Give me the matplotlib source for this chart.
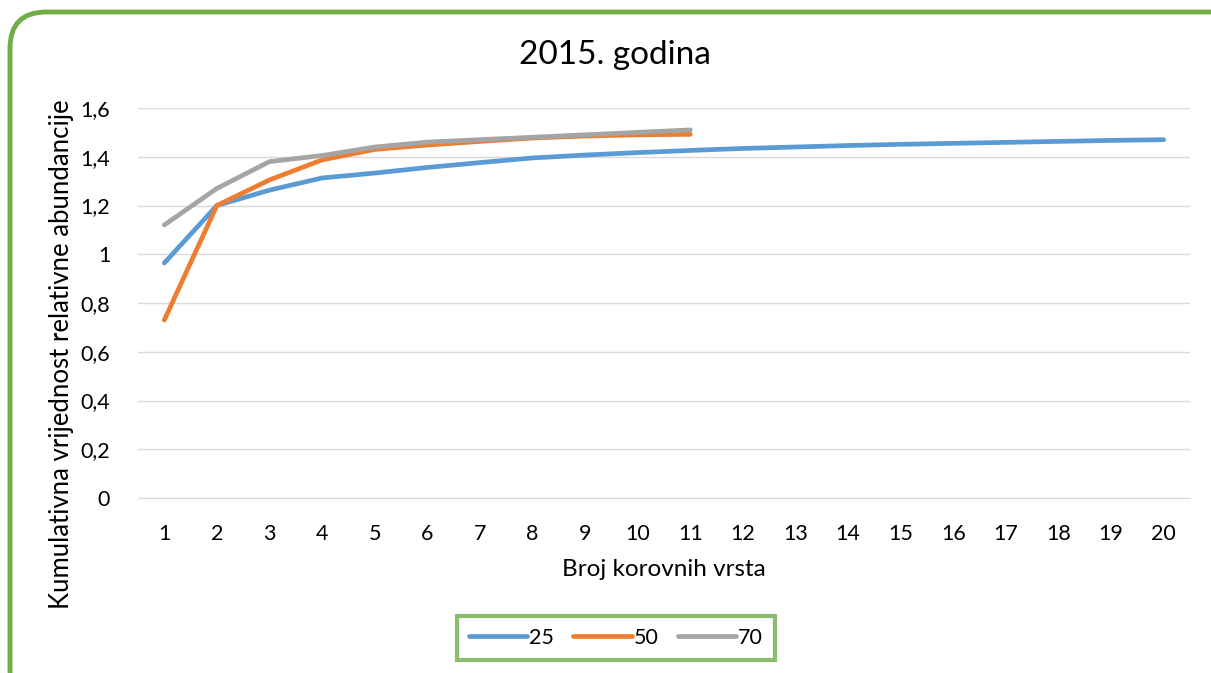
import matplotlib.pyplot as plt
from matplotlib.patches import FancyBboxPatch

plt.rcParams['font.family'] = ['Lato', 'DejaVu Sans']

x_vals = list(range(1, 21))
s25 = [0.964, 1.2, 1.263, 1.313, 1.333, 1.356, 1.376, 1.395, 1.407, 1.417,
       1.426, 1.434, 1.44, 1.446, 1.451, 1.455, 1.459, 1.463, 1.467, 1.47]
s50 = [0.73, 1.2, 1.305, 1.387, 1.43, 1.448, 1.463, 1.477, 1.485, 1.49, 1.492]
s70 = [1.12, 1.27, 1.38, 1.405, 1.44, 1.46, 1.47, 1.48, 1.49, 1.5, 1.51]
series = [("25", s25, "#5b9bd5"), ("50", s50, "#ed7d31"), ("70", s70, "#a5a5a5")]
y_ticks = [0, 0.2, 0.4, 0.6, 0.8, 1.0, 1.2, 1.4, 1.6]
y_labels = ["0", "0,2", "0,4", "0,6", "0,8", "1", "1,2", "1,4", "1,6"]

fig = plt.figure(figsize=(12.11, 6.73), dpi=100)
ax = fig.add_axes([138/1211, 1 - 498/673, (1190-138)/1211, (498-108)/673])

for name, vals, col in series:
    ax.plot(x_vals[:len(vals)], vals, color=col, lw=3.4, label=name,
            solid_capstyle='round', solid_joinstyle='round')

ax.set_xlim(0.5, 20.5)
ax.set_ylim(0, 1.6)
ax.set_xticks(x_vals)
ax.set_yticks(y_ticks)
ax.set_yticklabels(y_labels)
ax.tick_params(length=0, labelsize=15.5, colors='black')
ax.tick_params(axis='x', pad=19)
ax.tick_params(axis='y', pad=20)
ax.grid(axis='y', color='#d9d9d9', lw=1)
ax.set_axisbelow(True)
for s in ['top', 'right', 'left']:
    ax.spines[s].set_visible(False)
ax.spines['bottom'].set_color('#d9d9d9')

fig.text(615/1211, 1 - 55/673, "2015. godina", ha='center', va='center', fontsize=24)
fig.text(664/1211, 1 - 570/673, "Broj korovnih vrsta", ha='center', va='center', fontsize=17.5)
fig.text(62/1211, 1 - 354/673, "Kumulativna vrijednost relativne abundancije", ha='center', va='center',
         rotation=90, fontsize=18.5)

leg = fig.legend(loc='center', bbox_to_anchor=(616/1211, 1 - 638/673), ncol=3, frameon=True,
                 fontsize=15.5, handlelength=2.7, handletextpad=0.1, columnspacing=0.9,
                 fancybox=False, borderpad=0.55)
leg.get_frame().set_edgecolor('#70ad47')
leg.get_frame().set_linewidth(3)

border = FancyBboxPatch((10/1211, -0.05), 1.05, 1 - 12/673 + 0.05,
                        boxstyle="round,pad=0,rounding_size=0.03", transform=fig.transFigure,
                        fill=False, edgecolor='#70ad47', lw=3.5, mutation_aspect=1211/673)
fig.patches.append(border)

fig.savefig("out.png", dpi=100)
